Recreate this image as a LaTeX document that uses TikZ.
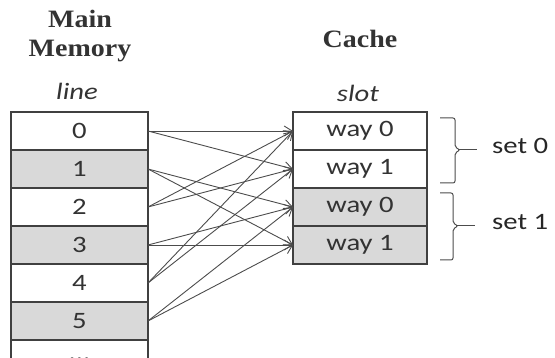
\documentclass[tikz,border=0pt]{standalone}
\usepackage{fontspec}
\usetikzlibrary{positioning,arrows.meta}
\newfontfamily\cellfont[FakeStretch=1.22]{Carlito}
\newfontfamily\headfont[FakeStretch=1.12]{Liberation Serif}

\begin{document}
\begin{tikzpicture}[x=1pt,y=-1pt,
    cell/.style={draw=black!75, line width=1.1pt, outer sep=0pt, inner sep=0pt,
        minimum height=38pt, text=black!80, font=\cellfont\fontsize{23.5}{25}\selectfont},
    memcell/.style={cell, minimum width=137pt},
    slotcell/.style={cell, minimum width=134pt},
    shade/.style={fill=black!15},
    head/.style={font=\headfont\bfseries\fontsize{25}{28}\selectfont, text=black!80, inner sep=0pt},
    sub/.style={font=\cellfont\itshape\fontsize{23.5}{25}\selectfont, text=black!80, inner sep=0pt},
    setlbl/.style={font=\cellfont\fontsize{23.5}{25}\selectfont, text=black!85, inner sep=0pt},
    brk/.style={draw=black!70, line width=1pt, rounded corners=2pt},
    map/.style={draw=black!70, line width=0.9pt, -{Straight Barb[length=8pt,width=10pt]}}]
\clip (0,0) rectangle (555,358);

% headings
\node[head, anchor=base] (mainhd) at (80,28) {Main};
\node[head, anchor=base] (memhd) at (80,57) {Memory};
\node[head, anchor=base] (cachehd) at (360,48) {Cache};
\node[sub, anchor=base] (linehd) at (77,100) {line};
\node[sub, anchor=base] (slothd) at (358,102) {slot};

% main memory
\node[memcell] (m0) at (79.5,131) {0};
\node[memcell, shade, below=0pt of m0] (m1) {1};
\node[memcell, below=0pt of m1] (m2) {2};
\node[memcell, shade, below=0pt of m2] (m3) {3};
\node[memcell, below=0pt of m3] (m4) {4};
\node[memcell, shade, below=0pt of m4] (m5) {5};
\node[memcell, below=0pt of m5] (m6) {...};

% cache
\node[slotcell] (c0) at (360,131) {way 0};
\node[slotcell, below=0pt of c0] (c1) {way 1};
\node[slotcell, shade, below=0pt of c1] (c2) {way 0};
\node[slotcell, shade, below=0pt of c2] (c3) {way 1};

% sets
\draw[brk] (440,118) -- (455,118) -- (455,147) -- (460,150) -- (455,153) -- (455,183) -- (440,183);
\draw[brk] (459,150) -- (477,150);
\node[setlbl, anchor=mid west] (s0) at (492,151) {set 0};
\draw[brk] (440,193) -- (453,193) -- (453,223) -- (458,226) -- (453,229) -- (453,260) -- (440,260);
\draw[brk] (457,226) -- (475,226);
\node[setlbl, anchor=mid west] (s1) at (492,227) {set 1};

% line i goes to both ways of set (i mod 2)
\foreach \i in {0,...,5} {
    \pgfmathtruncatemacro{\w}{2*mod(\i,2)}
    \pgfmathtruncatemacro{\v}{\w+1}
    \draw[map] (m\i.east) -- (c\w.west);
    \draw[map] (m\i.east) -- (c\v.west);
}
\end{tikzpicture}
\end{document}
